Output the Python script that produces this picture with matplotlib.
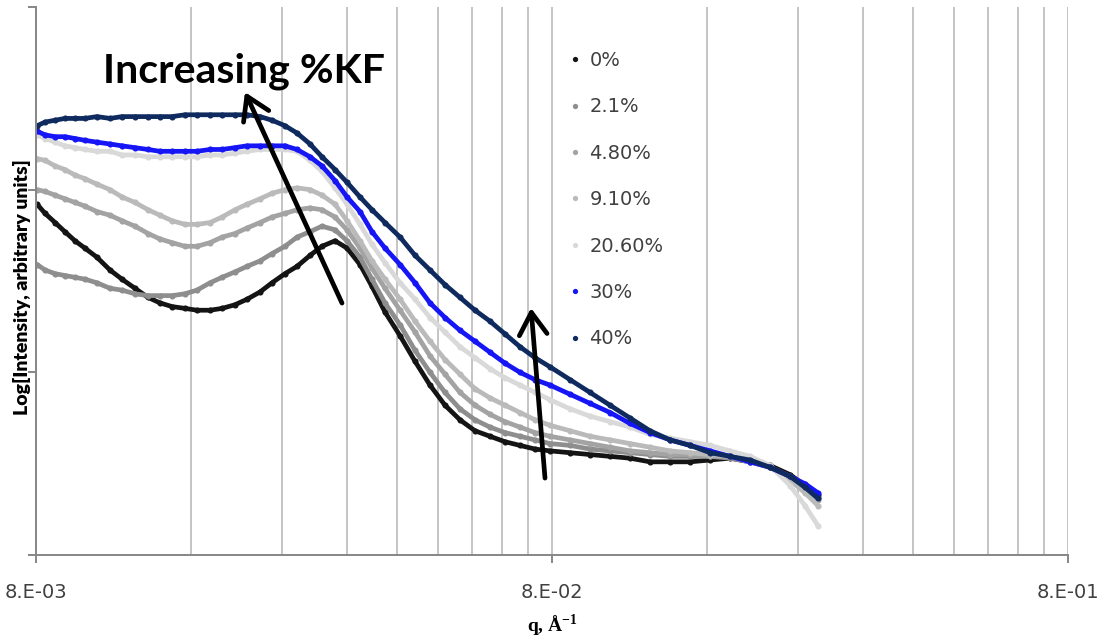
import matplotlib
matplotlib.use("Agg")
import matplotlib.pyplot as plt
from matplotlib.ticker import FixedLocator, FixedFormatter, NullFormatter
from matplotlib.lines import Line2D

plt.rcParams["mathtext.fontset"] = "custom"
plt.rcParams["mathtext.rm"] = "Liberation Serif:bold"
plt.rcParams["mathtext.bf"] = "Liberation Serif:bold"

# scattering vector q (1/Angstrom)
q = [0.00804, 0.00833, 0.00871, 0.00910, 0.00952, 0.00995, 0.01050, 0.01113, 0.01174, 0.01244,
     0.01319, 0.01391, 0.01468, 0.01555, 0.01641, 0.01739, 0.01835, 0.01944, 0.02051, 0.02174,
     0.02293, 0.02430, 0.02564, 0.02717, 0.02866, 0.03038, 0.03205, 0.03396, 0.03583, 0.03797,
     0.04061, 0.04342, 0.04641, 0.04962, 0.05305, 0.05673, 0.06065, 0.06486, 0.06934, 0.07415,
     0.07929, 0.08669, 0.09478, 0.10364, 0.11331, 0.12389, 0.13546, 0.14810, 0.16193, 0.17705,
     0.19359, 0.21165, 0.23142, 0.24743, 0.26220]

# log intensity (arbitrary units) for each KF content
kf0 = [1.92, 1.87, 1.82, 1.77, 1.72, 1.68, 1.63, 1.56, 1.51, 1.46,
       1.41, 1.38, 1.36, 1.35, 1.34, 1.34, 1.35, 1.37, 1.40, 1.44,
       1.49, 1.54, 1.58, 1.64, 1.69, 1.72, 1.68, 1.59, 1.47, 1.33,
       1.20, 1.06, 0.93, 0.82, 0.74, 0.68, 0.65, 0.62, 0.60, 0.58,
       0.57, 0.56, 0.55, 0.54, 0.53, 0.51, 0.51, 0.51, 0.52, 0.53,
       0.51, 0.49, 0.44, 0.38, 0.33]
kf2_1 = [1.59, 1.56, 1.54, 1.53, 1.52, 1.51, 1.49, 1.46, 1.45, 1.43,
         1.42, 1.42, 1.42, 1.43, 1.45, 1.49, 1.52, 1.55, 1.58, 1.61,
         1.65, 1.69, 1.74, 1.77, 1.80, 1.78, 1.72, 1.63, 1.51, 1.38,
         1.26, 1.12, 1.00, 0.89, 0.80, 0.74, 0.70, 0.67, 0.65, 0.63,
         0.61, 0.60, 0.58, 0.57, 0.56, 0.55, 0.54, 0.54, 0.54, 0.53,
         0.51, 0.48, 0.43, 0.37, 0.31]
kf4_8 = [2.00, 1.99, 1.97, 1.95, 1.93, 1.91, 1.88, 1.86, 1.83, 1.80,
         1.76, 1.73, 1.71, 1.69, 1.69, 1.71, 1.74, 1.76, 1.79, 1.82,
         1.85, 1.87, 1.89, 1.90, 1.89, 1.85, 1.78, 1.68, 1.57, 1.46,
         1.34, 1.22, 1.09, 0.99, 0.89, 0.82, 0.77, 0.73, 0.70, 0.67,
         0.65, 0.63, 0.61, 0.59, 0.57, 0.56, 0.55, 0.55, 0.54, 0.54,
         0.51, 0.48, 0.42, 0.36, 0.30]
kf9_1 = [2.17, 2.16, 2.13, 2.11, 2.08, 2.06, 2.03, 2.00, 1.96, 1.93,
         1.89, 1.86, 1.83, 1.81, 1.81, 1.82, 1.85, 1.89, 1.92, 1.95,
         1.98, 2.00, 2.01, 2.00, 1.97, 1.92, 1.83, 1.72, 1.61, 1.51,
         1.40, 1.28, 1.17, 1.07, 0.99, 0.91, 0.86, 0.82, 0.78, 0.74,
         0.71, 0.68, 0.65, 0.63, 0.61, 0.59, 0.57, 0.56, 0.55, 0.54,
         0.51, 0.48, 0.41, 0.34, 0.27]
kf20_6 = [2.30, 2.28, 2.26, 2.24, 2.23, 2.22, 2.21, 2.21, 2.19, 2.19,
          2.18, 2.18, 2.18, 2.18, 2.18, 2.19, 2.19, 2.20, 2.21, 2.22,
          2.22, 2.22, 2.21, 2.16, 2.10, 2.01, 1.92, 1.81, 1.70, 1.60,
          1.49, 1.40, 1.30, 1.22, 1.14, 1.08, 1.02, 0.97, 0.93, 0.89,
          0.85, 0.80, 0.76, 0.73, 0.70, 0.66, 0.64, 0.62, 0.60, 0.57,
          0.54, 0.49, 0.38, 0.27, 0.16]
kf30 = [2.32, 2.30, 2.29, 2.29, 2.28, 2.27, 2.26, 2.25, 2.24, 2.23,
        2.22, 2.21, 2.21, 2.21, 2.21, 2.22, 2.22, 2.23, 2.24, 2.24,
        2.24, 2.24, 2.22, 2.18, 2.13, 2.05, 1.96, 1.88, 1.77, 1.68,
        1.59, 1.49, 1.38, 1.30, 1.23, 1.17, 1.11, 1.05, 1.00, 0.96,
        0.93, 0.88, 0.83, 0.78, 0.72, 0.67, 0.63, 0.60, 0.57, 0.54,
        0.51, 0.48, 0.43, 0.39, 0.34]
kf40 = [2.35, 2.37, 2.38, 2.39, 2.39, 2.39, 2.40, 2.39, 2.40, 2.40,
        2.40, 2.40, 2.40, 2.41, 2.41, 2.41, 2.41, 2.41, 2.41, 2.40,
        2.38, 2.35, 2.31, 2.25, 2.18, 2.11, 2.04, 1.96, 1.89, 1.82,
        1.74, 1.64, 1.56, 1.48, 1.41, 1.34, 1.28, 1.21, 1.14, 1.08,
        1.03, 0.96, 0.89, 0.82, 0.75, 0.68, 0.63, 0.60, 0.56, 0.54,
        0.52, 0.48, 0.43, 0.37, 0.31]

labels = ["0%", "2.1%", "4.80%", "9.10%", "20.60%", "30%", "40%"]
series = [kf0, kf2_1, kf4_8, kf9_1, kf20_6, kf30, kf40]
colors = ["#141414", "#8e8e8e", "#a3a3a3", "#bababa", "#d9d9d9", "#1515f5", "#0e2a5e"]

x_major = [0.008, 0.08, 0.8]
x_major_labels = ["8.E-03", "8.E-02", "8.E-01"]
x_minor = [0.008 * k for k in range(2, 10)] + [0.08 * k for k in range(2, 10)]

fig = plt.figure(figsize=(11.04, 6.40), dpi=100)
ax = fig.add_axes([36 / 1104, 1 - 555 / 640, (1068 - 36) / 1104, (555 - 7) / 640])

ax.set_xscale("log")
ax.set_xlim(0.008, 0.8)
ax.set_ylim(0, 3)

for vals, col, lab in zip(series, colors, labels):
    ax.plot(q, vals, color=col, lw=3.4, marker="o", ms=4.4, mew=0,
            solid_capstyle="round", solid_joinstyle="round", label=lab)

# axes styling
ax.xaxis.set_major_locator(FixedLocator(x_major))
ax.xaxis.set_major_formatter(FixedFormatter(x_major_labels))
ax.xaxis.set_minor_locator(FixedLocator(x_minor))
ax.xaxis.set_minor_formatter(NullFormatter())
ax.set_yticks([0, 1, 2, 3])
ax.set_yticklabels([])
ax.grid(True, which="both", axis="x", color="#c4c4c4", lw=1.4, zorder=0)
ax.set_axisbelow(True)
for side in ("top", "right"):
    ax.spines[side].set_visible(False)
for side in ("left", "bottom"):
    ax.spines[side].set_color("#868686")
    ax.spines[side].set_linewidth(1.4)
ax.tick_params(axis="x", which="major", direction="out", length=6, width=1.4,
               color="#868686", pad=14, labelsize=14, labelcolor="#404040")
ax.tick_params(axis="x", which="minor", length=0)
ax.tick_params(axis="y", which="major", direction="out", length=6, width=1.4,
               color="#868686")

# axis titles
fig.text(22 / 1104, 1 - 287 / 640, "Log[Intensity, arbitrary units]", rotation=90,
         ha="center", va="center", fontsize=14, fontweight="heavy",
         family=["Lato", "DejaVu Sans"], color="#000000")
fig.text(552 / 1104, 1 - 626 / 640, r"q, Å$^{\mathbf{-1}}$", ha="center", va="center",
         fontsize=14, fontweight="bold", family="Liberation Serif", color="#000000")

# legend
handles = [Line2D([], [], ls="", marker="o", ms=3.8, mew=0, color=c) for c in colors]
ax.legend(handles, labels, loc="upper left", bbox_to_anchor=(570 / 1104, 1 - 51 / 640),
          bbox_transform=fig.transFigure, frameon=False, fontsize=14,
          labelcolor="#404040", handlelength=0.5, handletextpad=0.5,
          labelspacing=1.41, borderpad=0, borderaxespad=0)

# annotation
fig.text(103 / 1104, 1 - 82 / 640, "Increasing %KF", ha="left", va="baseline",
         fontsize=29.6, fontweight="bold", family=["Lato", "DejaVu Sans"], color="#000000")
arrow_kw = dict(arrowstyle="->,head_length=0.8,head_width=0.5", color="black",
                lw=3.4, mutation_scale=20, shrinkA=0, shrinkB=0)
ax.annotate("", xy=(0.02033, 2.534), xytext=(0.03134, 1.379), arrowprops=arrow_kw)
ax.annotate("", xy=(0.07285, 1.352), xytext=(0.07754, 0.421), arrowprops=arrow_kw)

fig.savefig("out.png", dpi=100)
